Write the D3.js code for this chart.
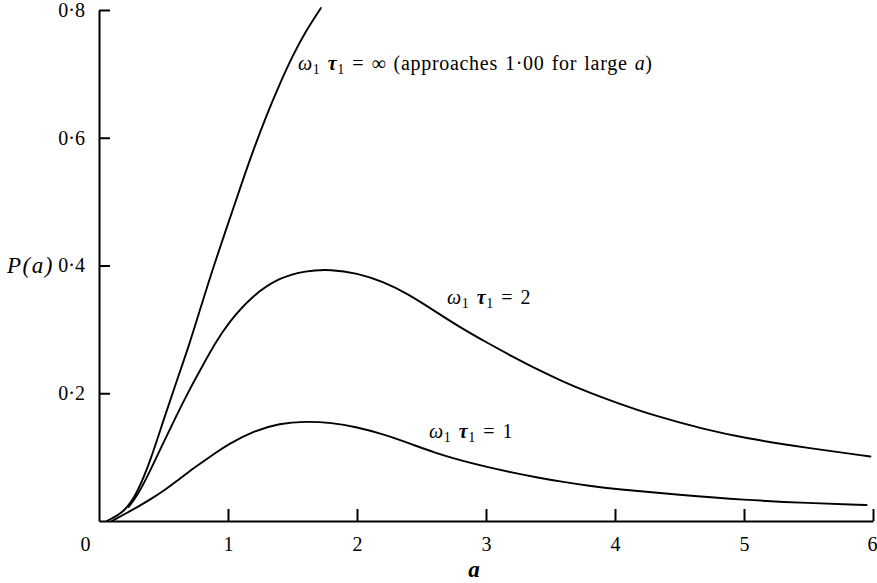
<!DOCTYPE html>
<html>
<head>
<meta charset="utf-8">
<script src="https://cdn.jsdelivr.net/npm/d3@7"></script>
<style>
  html, body { margin: 0; padding: 0; background: #fff; }
  svg { display: block; }
  text { font-family: "Liberation Serif", "Times New Roman", serif; fill: #000; }
</style>
</head>
<body>
<svg id="chart" width="877" height="583"></svg>
<script>
// P(a) curves for three values of ω1τ1
const aInf  = [0.06, 0.2, 0.3, 0.4, 0.5, 0.6, 0.7, 0.8, 0.9, 1.0, 1.1, 1.2, 1.3, 1.4, 1.5, 1.6, 1.72];
const pInf  = [0.0, 0.014, 0.045, 0.095, 0.158, 0.218, 0.276, 0.342, 0.406, 0.465, 0.525, 0.583, 0.636, 0.684, 0.728, 0.766, 0.803];

const aTwo  = [0.23, 0.3, 0.4, 0.5, 0.6, 0.7, 0.8, 0.9, 1.0, 1.2, 1.4, 1.6, 1.8, 2.0, 2.2, 2.4, 2.6, 2.8, 3.0, 3.2, 3.4, 3.6, 3.8, 4.0, 4.3, 4.7, 5.0, 5.5, 5.98];
const pTwo  = [0.022, 0.04, 0.08, 0.123, 0.165, 0.205, 0.242, 0.278, 0.31, 0.355, 0.381, 0.392, 0.394, 0.388, 0.375, 0.355, 0.329, 0.303, 0.28, 0.258, 0.237, 0.218, 0.201, 0.186, 0.165, 0.143, 0.13, 0.114, 0.101];

const aOne  = [0.1, 0.2, 0.3, 0.4, 0.5, 0.6, 0.7, 0.8, 0.9, 1.0, 1.2, 1.4, 1.6, 1.8, 2.0, 2.2, 2.4, 2.6, 2.8, 3.0, 3.2, 3.4, 3.6, 3.8, 4.0, 4.5, 5.0, 5.5, 5.95];
const pOne  = [0.0, 0.011, 0.022, 0.034, 0.047, 0.062, 0.078, 0.092, 0.106, 0.12, 0.141, 0.153, 0.156, 0.154, 0.147, 0.136, 0.122, 0.107, 0.095, 0.085, 0.076, 0.068, 0.061, 0.055, 0.05, 0.041, 0.033, 0.028, 0.025];

const xTicks = [0, 1, 2, 3, 4, 5, 6];
const yTicks = [0.2, 0.4, 0.6, 0.8];

const fmt = v => String(v).replace(".", "\u00B7");

const svg = d3.select("#chart");
const x = d3.scaleLinear().domain([0, 6]).range([99, 873]);
const y = d3.scaleLinear().domain([0, 0.8]).range([521, 10]);

// axes: ticks point inward
const xAxis = d3.axisBottom(x).tickValues(xTicks).tickSizeInner(-12).tickSizeOuter(0)
  .tickPadding(16).tickFormat(d => d);
const yAxis = d3.axisLeft(y).tickValues(yTicks).tickSizeInner(-11).tickSizeOuter(0)
  .tickPadding(14).tickFormat(fmt);

const gx = svg.append("g").attr("transform", `translate(0,${y(0)})`).call(xAxis);
const gy = svg.append("g").attr("transform", `translate(${x(0)},0)`).call(yAxis);

[gx, gy].forEach(g => {
  g.attr("font-family", null).attr("font-size", null);
  g.select(".domain").attr("stroke", "#000").attr("stroke-width", 2);
  g.selectAll(".tick line").attr("stroke", "#000").attr("stroke-width", 2);
  g.selectAll(".tick text").attr("font-size", 20).attr("fill", "#000");
});
gx.selectAll(".tick").filter(d => d === 0).select("line").remove();
gx.selectAll(".tick text").attr("dx", d => d === 0 ? -14 : (d === 6 ? -1 : 0));

// curves
const line = d3.line().x(d => x(d[0])).y(d => y(d[1])).curve(d3.curveBasis);
const series = [
  d3.zip(aInf, pInf),
  d3.zip(aTwo, pTwo),
  d3.zip(aOne, pOne)
];
svg.append("g").selectAll("path").data(series).join("path")
  .attr("d", line)
  .attr("fill", "none")
  .attr("stroke", "#000")
  .attr("stroke-width", 1.9)
  .attr("stroke-linecap", "round");

// axis titles
svg.append("text").attr("x", 474).attr("y", 577).attr("text-anchor", "middle")
  .attr("font-size", 23).attr("font-style", "italic").attr("font-weight", "bold").text("a");
svg.append("text").attr("x", 7).attr("y", 273).attr("font-size", 23).attr("font-style", "italic")
  .attr("letter-spacing", 1.5).text("P(a)");

// curve labels: ω1 τ1 = ...
function curveLabel(px, py, rest, italicTail) {
  const t = svg.append("text").attr("x", px).attr("y", py).attr("font-size", 20)
    .attr("letter-spacing", 0.7).attr("word-spacing", 1.5);
  t.append("tspan").attr("font-style", "italic").text("\u03C9");
  t.append("tspan").attr("font-size", 14).attr("dy", 4).text("1");
  t.append("tspan").attr("dy", -4).text(" ");
  t.append("tspan").attr("font-style", "italic").attr("font-weight", "bold").text("\u03C4");
  t.append("tspan").attr("font-size", 14).attr("dy", 4).text("1");
  t.append("tspan").attr("dy", -4).text(rest);
  if (italicTail) {
    t.append("tspan").attr("font-style", "italic").text(italicTail);
    t.append("tspan").text(")");
  }
  return t;
}
curveLabel(298, 70, " = \u221E  (approaches 1\u00B700 for large ", "a");
curveLabel(447, 304, " = 2");
curveLabel(429, 438, " = 1");
</script>
</body>
</html>
